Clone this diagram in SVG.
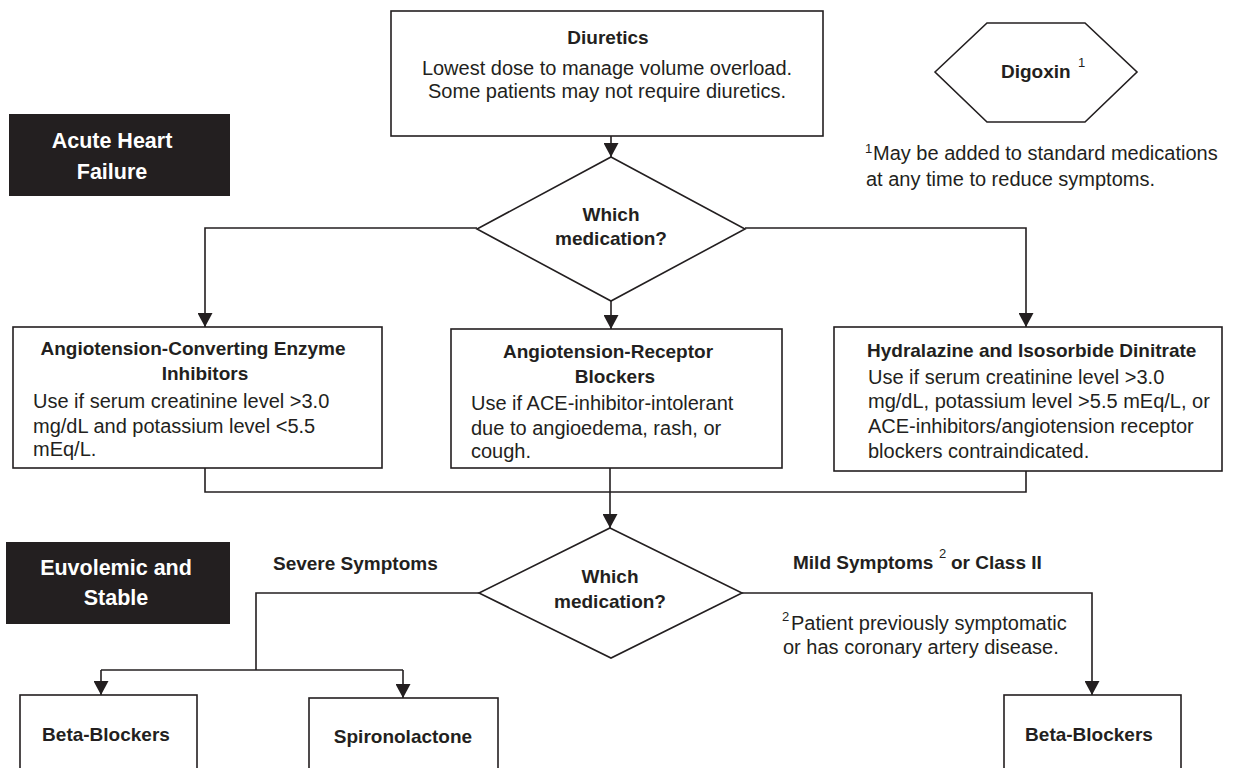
<svg xmlns="http://www.w3.org/2000/svg" width="1237" height="768" viewBox="0 0 1237 768">
<style>
.box{fill:#fff;stroke:#231f20;stroke-width:1.6}
.dark{fill:#231f20;stroke:none}
.ln{fill:none;stroke:#231f20;stroke-width:1.6}
.t{font-family:"Liberation Sans",Arial,sans-serif;font-size:20px;fill:#231f20}
.b{font-family:"Liberation Sans",Arial,sans-serif;font-size:19px;font-weight:bold;fill:#231f20}
.w{font-family:"Liberation Sans",Arial,sans-serif;font-size:21.5px;font-weight:bold;fill:#fff;text-anchor:middle}
.sup{font-family:"Liberation Sans",Arial,sans-serif;font-size:13px;fill:#231f20}
.m{text-anchor:middle}
</style>
<defs>
<marker id="ah" viewBox="0 0 14 15" markerUnits="userSpaceOnUse" markerWidth="14" markerHeight="15" refX="14" refY="7.5" orient="auto">
<path d="M0,0 L14,7.5 L0,15 z" fill="#231f20"/>
</marker>
</defs>
<rect width="1237" height="768" fill="#fff"/>

<g id="connectors">
<line class="ln" x1="611" y1="136" x2="611" y2="157" marker-end="url(#ah)"/>
<polyline class="ln" points="477,228 205,228 205,327" marker-end="url(#ah)"/>
<polyline class="ln" points="745,228 1026,228 1026,327" marker-end="url(#ah)"/>
<line class="ln" x1="611" y1="301" x2="611" y2="329" marker-end="url(#ah)"/>
<polyline class="ln" points="205,468 205,492 1026,492 1026,471"/>
<line class="ln" x1="610" y1="468" x2="610" y2="528" marker-end="url(#ah)"/>
<polyline class="ln" points="479,593 256,593 256,670"/>
<line class="ln" x1="101" y1="670" x2="403" y2="670"/>
<line class="ln" x1="101" y1="670" x2="101" y2="695" marker-end="url(#ah)"/>
<line class="ln" x1="403" y1="670" x2="403" y2="698" marker-end="url(#ah)"/>
<polyline class="ln" points="742,593 1092,593 1092,695" marker-end="url(#ah)"/>
</g>

<g id="diuretics">
<rect class="box" x="391" y="11" width="432" height="125"/>
<text class="b m" x="608" y="44">Diuretics</text>
<text class="t m" x="607" y="75">Lowest dose to manage volume overload.</text>
<text class="t m" x="607" y="98">Some patients may not require diuretics.</text>
</g>

<g id="digoxin">
<polygon class="box" points="935,72 987,23 1085,23 1137,72 1085,122 987,122"/>
<text class="b" x="1001" y="78">Digoxin</text>
<text class="sup" x="1078" y="67">1</text>
</g>

<g id="footnote1">
<text class="sup" x="865" y="153">1</text>
<text class="t" x="873" y="160">May be added to standard medications</text>
<text class="t" x="866" y="186">at any time to reduce symptoms.</text>
</g>

<g id="acute">
<rect class="dark" x="9" y="114" width="221" height="82"/>
<text class="w" x="112" y="148">Acute Heart</text>
<text class="w" x="112" y="179">Failure</text>
</g>

<g id="decision1">
<polygon class="box" points="611,157 745,229 611,301 477,229"/>
<text class="b m" x="611" y="221">Which</text>
<text class="b m" x="611" y="245">medication?</text>
</g>

<g id="ace">
<rect class="box" x="13" y="327" width="369" height="141"/>
<text class="b m" x="193" y="355">Angiotension-Converting Enzyme</text>
<text class="b m" x="205" y="380">Inhibitors</text>
<text class="t" x="33" y="408">Use if serum creatinine level &gt;3.0</text>
<text class="t" x="33" y="433">mg/dL and potassium level &lt;5.5</text>
<text class="t" x="33" y="456">mEq/L.</text>
</g>

<g id="arb">
<rect class="box" x="451" y="329" width="331" height="139"/>
<text class="b m" x="608" y="358">Angiotension-Receptor</text>
<text class="b m" x="615" y="383">Blockers</text>
<text class="t" x="471" y="410">Use if ACE-inhibitor-intolerant</text>
<text class="t" x="471" y="435">due to angioedema, rash, or</text>
<text class="t" x="471" y="458">cough.</text>
</g>

<g id="hydralazine">
<rect class="box" x="834" y="327" width="388" height="144"/>
<text class="b" x="867" y="357">Hydralazine and Isosorbide Dinitrate</text>
<text class="t" x="868" y="384">Use if serum creatinine level &gt;3.0</text>
<text class="t" x="868" y="408">mg/dL, potassium level &gt;5.5 mEq/L, or</text>
<text class="t" x="868" y="433">ACE-inhibitors/angiotension receptor</text>
<text class="t" x="868" y="458">blockers contraindicated.</text>
</g>

<g id="euvolemic">
<rect class="dark" x="6" y="542" width="224" height="82"/>
<text class="w" x="116" y="575">Euvolemic and</text>
<text class="w" x="116" y="605">Stable</text>
</g>

<g id="decision2">
<polygon class="box" points="610,528 742,593 611,658 479,593"/>
<text class="b m" x="610" y="583">Which</text>
<text class="b m" x="610" y="608">medication?</text>
</g>

<g id="label-severe">
<text class="b" x="273" y="570">Severe Symptoms</text>
</g>

<g id="label-mild">
<text class="b" x="793" y="569">Mild Symptoms</text>
<text class="sup" x="939" y="558">2</text>
<text class="b" x="951" y="569">or Class II</text>
</g>

<g id="footnote2">
<text class="sup" x="782" y="621">2</text>
<text class="t" x="791" y="630">Patient previously symptomatic</text>
<text class="t" x="783" y="654">or has coronary artery disease.</text>
</g>

<g id="beta1">
<rect class="box" x="20" y="695" width="177" height="90"/>
<text class="b m" x="106" y="741">Beta-Blockers</text>
</g>

<g id="spironolactone">
<rect class="box" x="309" y="698" width="189" height="90"/>
<text class="b m" x="403" y="743">Spironolactone</text>
</g>

<g id="beta2">
<rect class="box" x="1004" y="695" width="177" height="90"/>
<text class="b m" x="1089" y="741">Beta-Blockers</text>
</g>
</svg>
